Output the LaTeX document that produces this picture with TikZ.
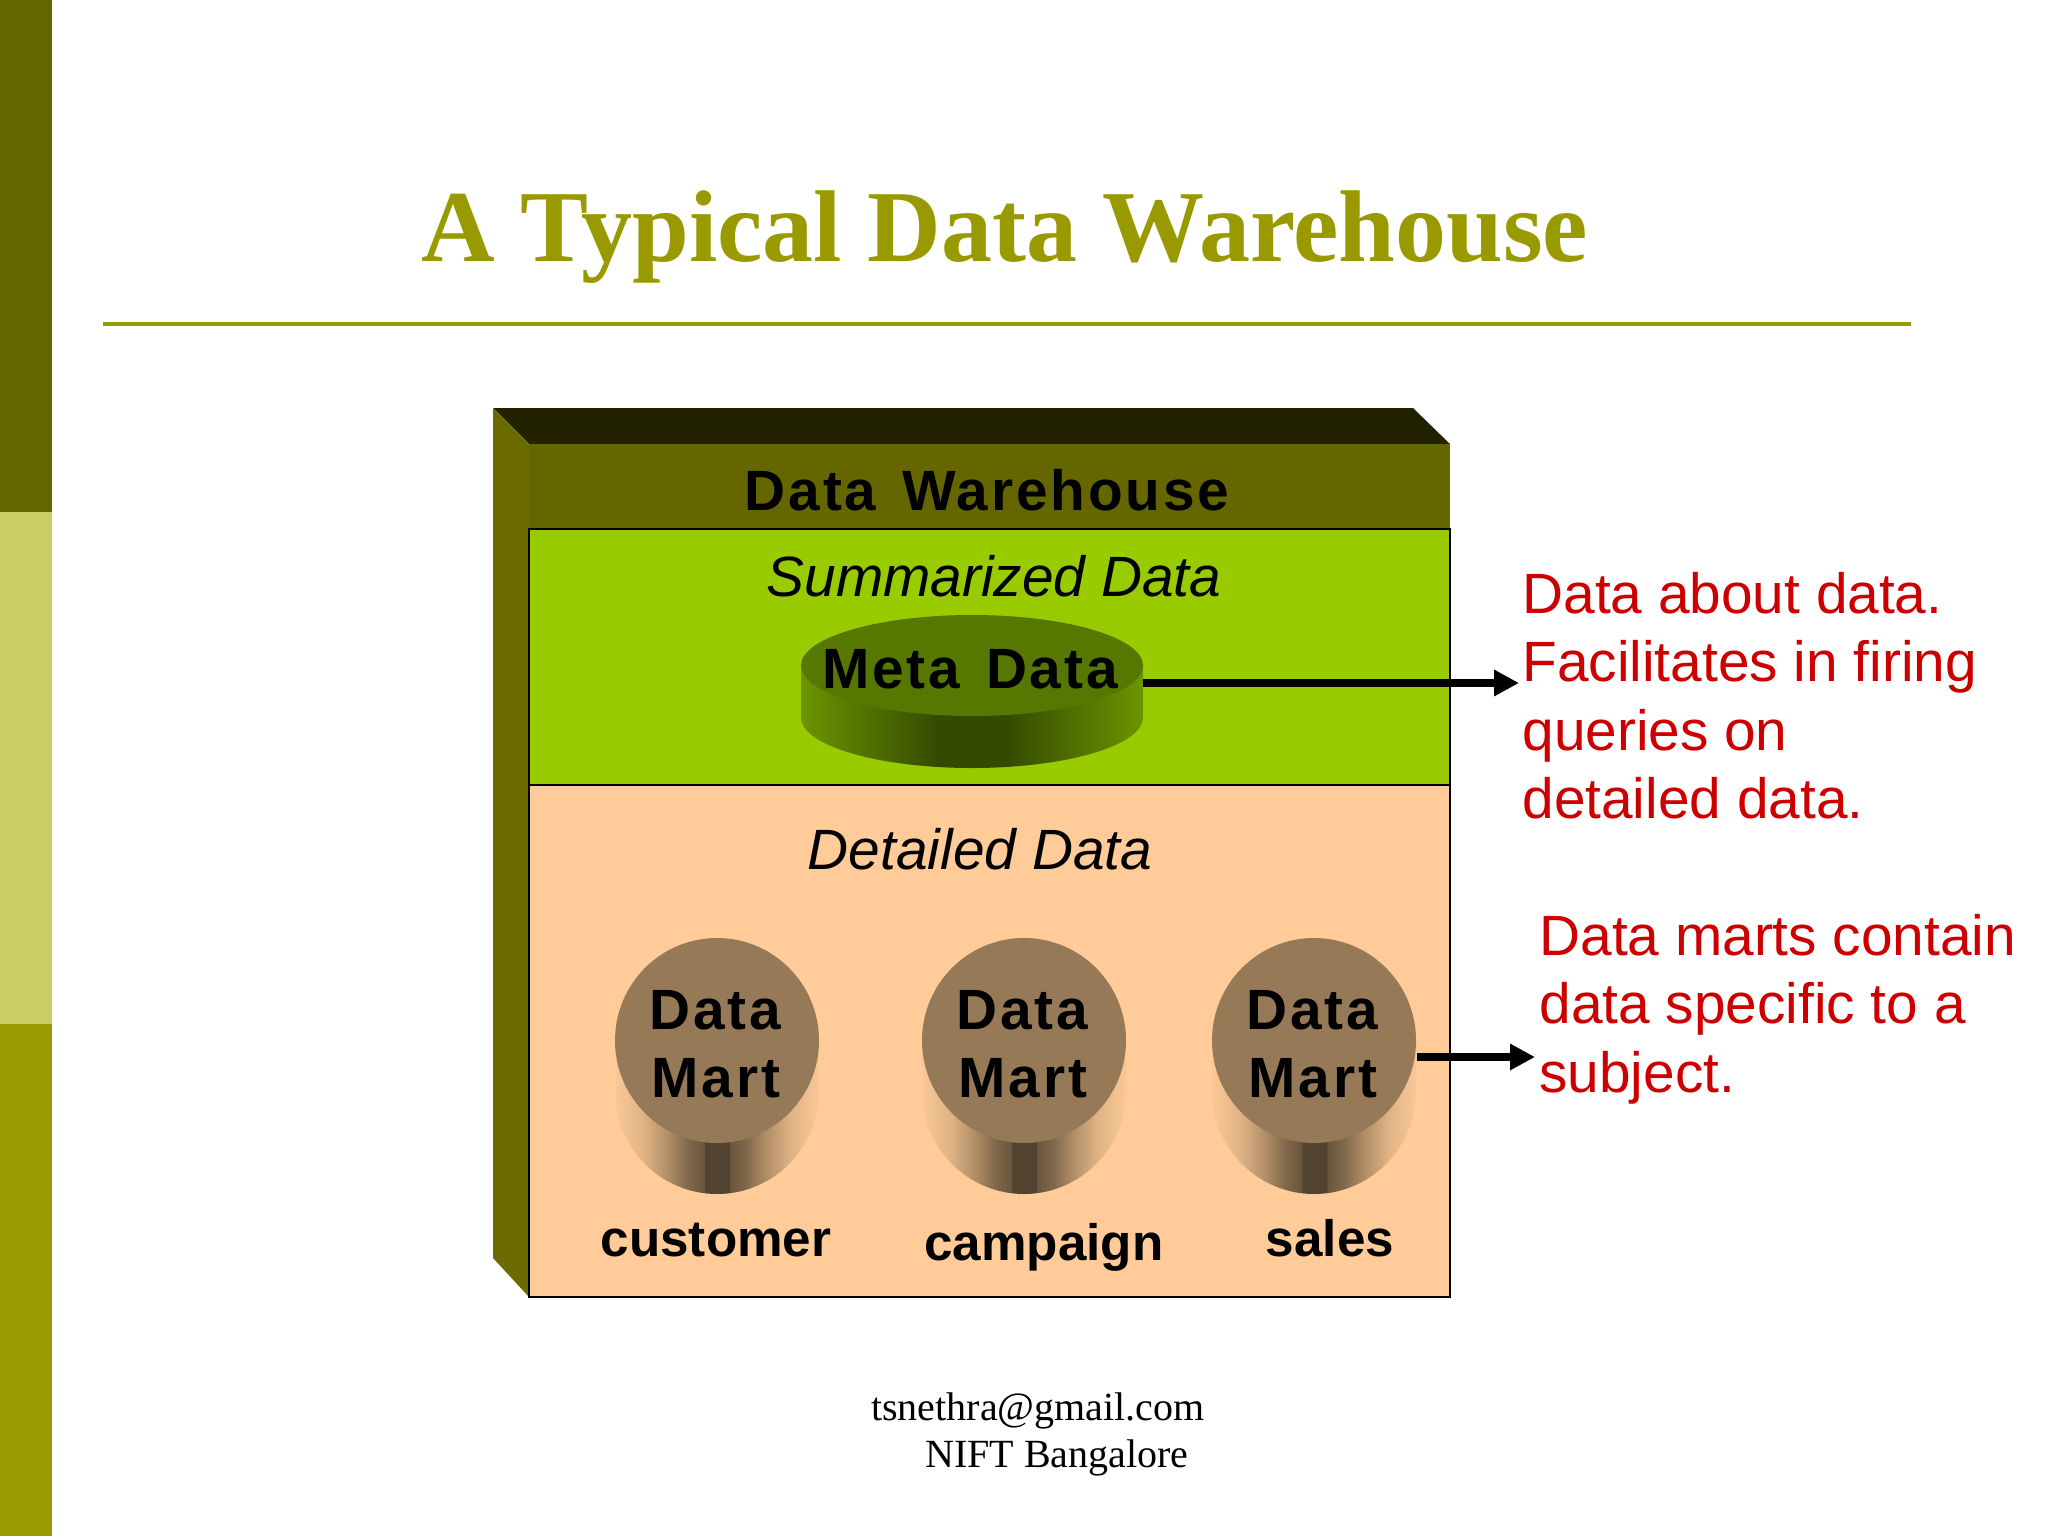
\documentclass[tikz,border=0pt]{standalone}
\usepackage{fontspec}
\setmainfont{Liberation Sans}
\newfontfamily\titlefont{Liberation Serif}
\newfontfamily\spacedfont[LetterSpace=5,WordSpace=1.4]{Liberation Sans}
\usetikzlibrary{arrows.meta,shapes.geometric}
\definecolor{olivedark}{HTML}{666600}
\definecolor{olivelight}{HTML}{CCCC66}
\definecolor{olivemid}{HTML}{999900}
\definecolor{wallside}{HTML}{6B6B00}
\definecolor{walltop}{HTML}{222200}
\definecolor{summgreen}{HTML}{99CC00}
\definecolor{detailpeach}{HTML}{FFCC99}
\definecolor{metatopcol}{HTML}{567700}
\definecolor{marttopcol}{HTML}{967957}
\definecolor{notered}{HTML}{CC0000}
\pgfdeclarehorizontalshading{martside}{100bp}{
  color(0bp)=(marttopcol!5!detailpeach); color(25bp)=(marttopcol!5!detailpeach); color(32bp)=(marttopcol!30!detailpeach);
  color(38bp)=(marttopcol!75!detailpeach); color(43bp)=(marttopcol!85!black); color(46.9bp)=(marttopcol!70!black);
  color(47bp)=(marttopcol!55!black); color(53bp)=(marttopcol!55!black); color(53.1bp)=(marttopcol!70!black);
  color(57bp)=(marttopcol!85!black); color(62bp)=(marttopcol!75!detailpeach); color(68bp)=(marttopcol!30!detailpeach);
  color(75bp)=(marttopcol!5!detailpeach); color(100bp)=(marttopcol!5!detailpeach)}
\pgfdeclarehorizontalshading{metaside}{100bp}{
  color(0bp)=(metatopcol!65!summgreen); color(25bp)=(metatopcol!65!summgreen); color(33bp)=(metatopcol);
  color(41bp)=(metatopcol!75!black); color(45bp)=(metatopcol!62!black); color(55bp)=(metatopcol!62!black);
  color(59bp)=(metatopcol!75!black); color(67bp)=(metatopcol);
  color(75bp)=(metatopcol!65!summgreen); color(100bp)=(metatopcol!65!summgreen)}
\newcommand{\BigTxt}{\fontsize{28.4}{34.15}\selectfont}

\begin{document}
\begin{tikzpicture}[x=0.5pt, y=-0.5pt,
  panelbox/.style={draw=black, line width=0.8pt, anchor=north west, inner sep=0pt, outer sep=0pt, minimum width=460.5pt},
  topdisc/.style={ellipse, inner sep=0pt, outer sep=0pt},
  martdisc/.style={topdisc, fill=marttopcol, minimum width=102pt, minimum height=102.5pt},
  metadisc/.style={topdisc, fill=metatopcol, minimum width=171pt, minimum height=50.5pt},
  heavylabel/.style={anchor=base, inner sep=0pt, font=\spacedfont\bfseries\BigTxt},
  sublabel/.style={anchor=base, inner sep=0pt, font=\BigTxt\itshape},
  subjectlabel/.style={anchor=base, inner sep=0pt, font=\fontsize{25.6}{30}\selectfont\bfseries},
  notetext/.style={anchor=north west, inner sep=0pt, align=left, text=notered, font=\BigTxt},
  footerlabel/.style={anchor=base, inner sep=0pt, font=\titlefont\fontsize{20}{24}\selectfont},
  bigarrow/.style={-{Triangle[length=12.5pt,width=12.5pt]}, line width=4pt, black}]

  \useasboundingbox (0,0) rectangle (2048,1536);
  \fill[white] (0,0) rectangle (2048,1536);

  % side bar and title
  \fill[olivedark] (0,0) rectangle (52,512);
  \fill[olivelight] (0,512) rectangle (52,1024);
  \fill[olivemid] (0,1024) rectangle (52,1536);
  \node[anchor=base, inner sep=0pt, text=olivemid, font=\titlefont\fontsize{51}{60}\selectfont\bfseries] (title) at (1005,261) {A Typical Data Warehouse};
  \draw[olivemid, line width=2pt] (103,324) -- (1911,324);

  % warehouse box
  \fill[walltop] (493,408) -- (1413,408) -- (1450,444) -- (529,444) -- cycle;
  \fill[wallside] (493,408) -- (529,444) -- (529,1297) -- (493,1258) -- cycle;
  \fill[olivedark] (529,444) rectangle (1450,529);
  \node[panelbox, fill=summgreen, minimum height=128pt] (summarized) at (529,529) {};
  \node[panelbox, fill=detailpeach, minimum height=256pt] (detailed) at (529,785) {};

  \node[heavylabel] (warehouse) at (987,510) {Data Warehouse};
  \node[sublabel] (summlabel) at (994,596) {Summarized Data};
  \node[sublabel] (detlabel) at (980,869) {Detailed Data};

  % meta data
  \shade[shading=metaside] (801,665.5) -- (801,717.5) arc[start angle=180, end angle=0, x radius=171, y radius=50.5] -- (1143,665.5) -- cycle;
  \node[metadisc] (meta) at (972,665.5) {};
  \node[heavylabel] (metalabel) at (970,688) {Meta Data};

  % data marts
  \shade[shading=martside] (615,1040.5) -- (615,1091.5) arc[start angle=180, end angle=0, x radius=102, y radius=102.5] -- (819,1040.5) -- cycle;
  \node[martdisc] (martA) at (717,1040.5) {};
  \node[heavylabel] (dataA) at (715,1029) {Data};
  \node[heavylabel] (martlabelA) at (716,1097) {Mart};
  \node[subjectlabel] (customer) at (716,1256) {customer};

  \shade[shading=martside] (922,1040.5) -- (922,1091.5) arc[start angle=180, end angle=0, x radius=102, y radius=102.5] -- (1126,1040.5) -- cycle;
  \node[martdisc] (martB) at (1024,1040.5) {};
  \node[heavylabel] (dataB) at (1022,1029) {Data};
  \node[heavylabel] (martlabelB) at (1023,1097) {Mart};
  \node[subjectlabel] (campaign) at (1044,1260) {campaign};

  \shade[shading=martside] (1212,1040.5) -- (1212,1091.5) arc[start angle=180, end angle=0, x radius=102, y radius=102.5] -- (1417,1040.5) -- cycle;
  \node[martdisc] (martC) at (1314,1040.5) {};
  \node[heavylabel] (dataC) at (1312,1029) {Data};
  \node[heavylabel] (martlabelC) at (1313,1097) {Mart};
  \node[subjectlabel] (sales) at (1330,1256) {sales};

  % notes on the right
  \node[notetext] (metanote) at (1522,572) {Data about data.\\Facilitates in firing\\queries on\\detailed data.};
  \node[notetext] (martnote) at (1539,914) {Data marts contain\\data specific to a\\subject.};

  \coordinate (metaout) at (1143,683);
  \coordinate (metaend) at (1519,683);
  \coordinate (martout) at (1417,1057);
  \coordinate (martend) at (1535,1057);
  \draw[bigarrow] (metaout) -- (metaend); %% meta->note
  \draw[bigarrow] (martout) -- (martend); %% mart->note

  % footer
  \node[footerlabel] (mail) at (1038,1420) {tsnethra@gmail.com};
  \node[footerlabel] (place) at (1057,1467) {NIFT Bangalore};

\end{tikzpicture}
\end{document}
